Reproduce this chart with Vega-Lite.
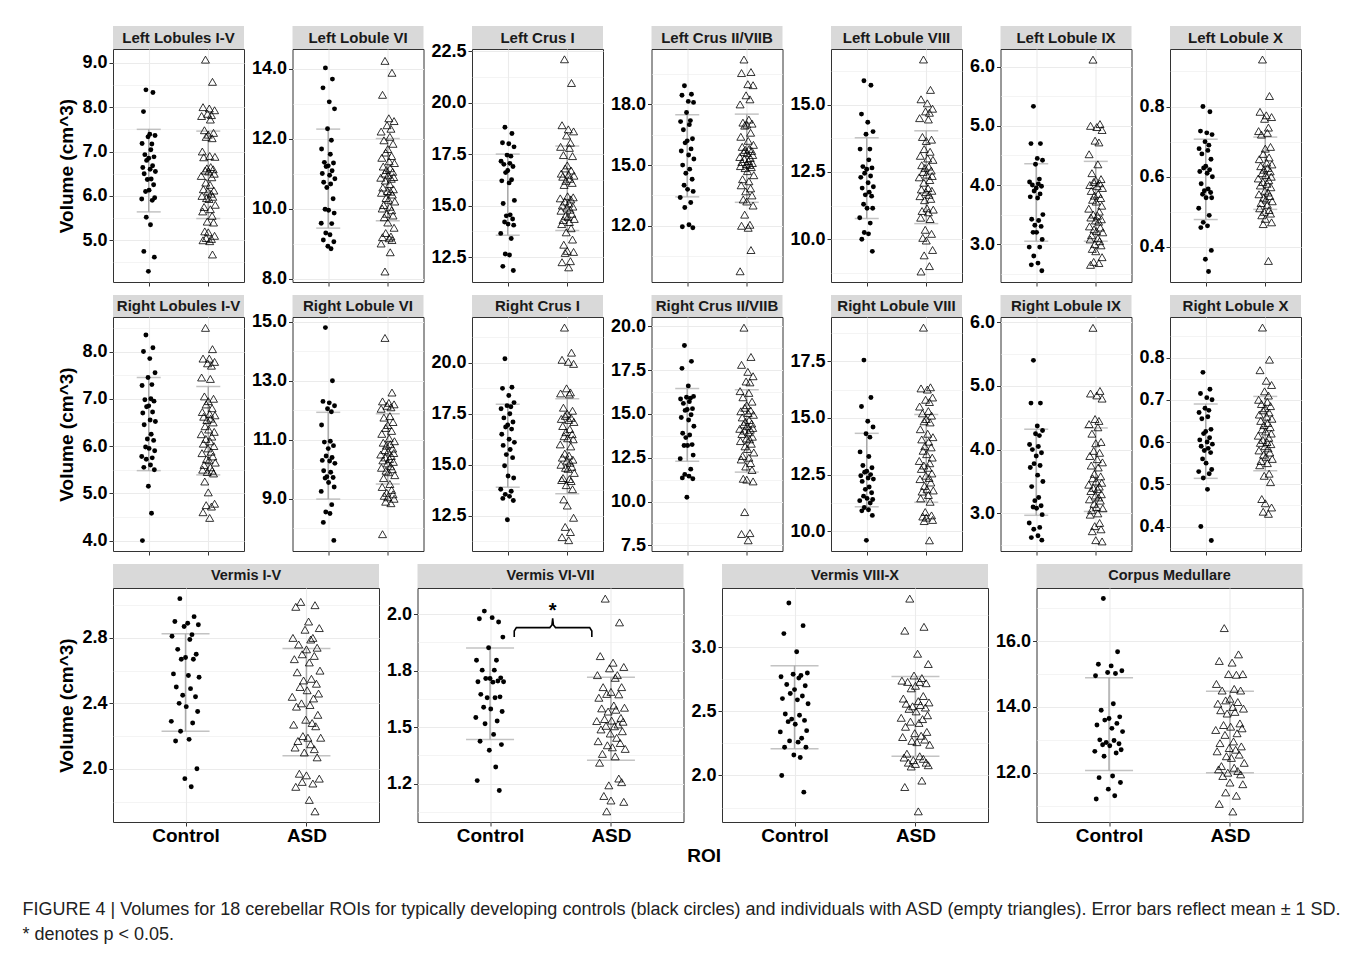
{
"$schema":"https://vega.github.io/schema/vega-lite/v6.json",
"padding":{"left":22,"top":26,"right":0,"bottom":0},
"background":"white",
"resolve":{"scale":{"xOffset":"independent"}},
"datasets":{
"pts":[
{"r":"L1","g":"Control","v":[8.39,8.33,7.9,7.39,7.36,7.33,7.17,7.18,7.04,6.93,6.88,6.85,6.8,6.68,6.64,6.6,6.55,6.5,6.38,6.37,6.25,6.1,6.13,5.96,5.93,5.9,5.52,5.35,4.75,4.62,4.3]},
{"r":"L1","g":"ASD","v":[9.07,8.57,8.0,7.97,7.93,7.85,7.82,7.8,7.72,7.48,7.42,7.38,7.33,7.3,7.0,6.9,6.88,6.87,6.65,6.62,6.6,6.57,6.55,6.5,6.45,6.42,6.3,6.25,6.15,6.12,6.1,6.05,6.0,5.98,5.95,5.93,5.8,5.75,5.7,5.65,5.55,5.42,5.4,5.2,5.18,5.1,5.05,5.03,5.0,4.98,4.68]},
{"r":"L2","g":"Control","v":[14.02,13.7,13.45,13.05,12.85,12.28,11.95,11.7,11.55,11.32,11.3,11.22,11.2,11.08,11.0,10.95,10.85,10.75,10.7,10.6,10.28,9.98,9.95,9.87,9.58,9.57,9.3,9.25,9.1,9.05,8.92,8.85]},
{"r":"L2","g":"ASD","v":[14.22,13.88,13.25,12.58,12.5,12.38,12.28,12.2,12.05,11.95,11.85,11.7,11.6,11.5,11.45,11.35,11.3,11.2,11.15,11.1,11.05,11.0,10.95,10.9,10.88,10.85,10.8,10.7,10.6,10.55,10.5,10.48,10.45,10.4,10.3,10.25,10.2,10.1,10.05,10.0,9.95,9.85,9.8,9.75,9.6,9.45,9.3,9.2,9.18,9.15,9.1,9.0,8.75,8.2]},
{"r":"L3","g":"Control","v":[18.8,18.5,18.05,18.0,17.85,17.45,17.4,17.15,17.05,17.0,16.9,16.7,16.6,16.25,16.2,16.1,15.25,15.1,14.55,14.5,14.35,14.2,14.1,14.05,13.65,13.4,12.65,12.6,12.05,11.85]},
{"r":"L3","g":"ASD","v":[22.1,20.95,18.9,18.7,18.6,18.4,18.05,17.85,17.8,17.45,17.4,16.95,16.8,16.7,16.55,16.5,16.45,16.4,16.3,16.2,16.1,16.0,15.45,15.4,15.35,15.3,15.2,15.1,15.0,14.95,14.9,14.8,14.75,14.6,14.5,14.45,14.35,14.3,14.2,14.1,13.9,13.7,13.35,13.1,12.8,12.75,12.7,12.3,12.25,12.0]},
{"r":"L4","g":"Control","v":[18.92,18.5,18.45,18.15,18.1,17.6,17.2,17.15,17.0,16.75,16.3,16.2,16.1,15.8,15.7,15.5,15.3,15.0,14.8,14.6,14.3,14.0,13.8,13.7,13.4,13.15,12.9,12.05,11.95,11.9]},
{"r":"L4","g":"ASD","v":[20.22,19.6,19.55,19.0,18.95,18.45,18.25,18.0,17.25,17.1,17.05,17.0,16.95,16.6,16.4,16.2,16.0,15.9,15.8,15.75,15.7,15.65,15.6,15.5,15.4,15.35,15.3,15.2,15.15,15.1,15.05,15.0,14.95,14.9,14.85,14.7,14.5,14.3,14.2,14.0,13.85,13.7,13.5,13.3,13.2,13.0,12.55,12.05,12.0,11.9,10.8,9.75]},
{"r":"L5","g":"Control","v":[15.89,15.72,14.65,14.35,14.0,13.9,13.35,13.35,12.95,12.7,12.65,12.6,12.45,12.35,12.3,12.1,11.95,11.9,11.75,11.65,11.6,11.3,11.15,11.15,10.8,10.6,10.25,10.2,10.0,9.55]},
{"r":"L5","g":"ASD","v":[16.68,15.55,15.2,15.05,14.85,14.75,14.7,14.5,14.45,13.8,13.7,13.65,13.35,13.25,13.1,13.0,12.95,12.75,12.7,12.65,12.55,12.5,12.4,12.35,12.3,12.2,12.1,11.9,11.85,11.8,11.75,11.65,11.6,11.5,11.45,11.15,11.1,11.05,11.0,10.8,10.75,10.35,10.2,10.05,9.95,9.6,9.4,9.0,8.8]},
{"r":"L6","g":"Control","v":[5.33,4.7,4.7,4.45,4.42,4.35,4.1,4.05,4.02,4.0,3.98,3.95,3.9,3.85,3.8,3.78,3.5,3.42,3.4,3.32,3.3,3.2,3.2,3.08,2.95,2.95,2.8,2.68,2.65,2.55]},
{"r":"L6","g":"ASD","v":[6.12,5.03,5.0,4.98,4.93,4.75,4.72,4.52,4.35,4.2,4.1,4.08,4.05,4.03,4.0,3.98,3.95,3.9,3.85,3.82,3.78,3.75,3.72,3.65,3.6,3.55,3.5,3.48,3.45,3.42,3.4,3.38,3.3,3.28,3.25,3.22,3.2,3.15,3.1,3.08,3.05,3.0,2.98,2.92,2.88,2.78,2.7,2.68,2.65]},
{"r":"L7","g":"Control","v":[0.8,0.785,0.73,0.725,0.72,0.7,0.69,0.68,0.675,0.665,0.65,0.63,0.625,0.62,0.615,0.61,0.6,0.58,0.565,0.56,0.555,0.55,0.54,0.54,0.51,0.49,0.47,0.46,0.455,0.39,0.365,0.33]},
{"r":"L7","g":"ASD","v":[0.934,0.83,0.785,0.775,0.77,0.765,0.74,0.73,0.725,0.72,0.685,0.68,0.665,0.655,0.65,0.64,0.635,0.63,0.625,0.62,0.615,0.61,0.605,0.6,0.595,0.59,0.585,0.58,0.575,0.57,0.56,0.555,0.55,0.545,0.54,0.535,0.53,0.525,0.52,0.51,0.505,0.5,0.495,0.49,0.48,0.47,0.465,0.36]},
{"r":"R1","g":"Control","v":[8.35,8.08,8.0,7.85,7.55,7.45,7.3,7.28,7.0,6.98,6.95,6.85,6.83,6.72,6.7,6.55,6.52,6.45,6.25,6.15,6.12,5.98,5.95,5.9,5.78,5.75,5.72,5.6,5.55,5.5,5.15,4.58,4.0]},
{"r":"R1","g":"ASD","v":[8.5,8.05,7.85,7.85,7.78,7.75,7.7,7.45,7.42,7.05,7.0,6.95,6.88,6.8,6.72,6.68,6.65,6.62,6.58,6.55,6.5,6.42,6.35,6.3,6.25,6.2,6.15,6.1,6.05,6.0,5.95,5.88,5.85,5.78,5.72,5.7,5.65,5.6,5.55,5.5,5.48,5.45,5.42,5.25,5.02,4.78,4.75,4.72,4.6,4.48]},
{"r":"R2","g":"Control","v":[14.8,13.0,12.3,12.25,12.15,12.05,11.95,11.5,10.95,10.92,10.8,10.7,10.45,10.4,10.3,10.28,10.2,9.95,9.9,9.75,9.72,9.7,9.55,9.4,9.25,8.8,8.55,8.5,8.2,7.59]},
{"r":"R2","g":"ASD","v":[14.45,12.6,12.3,12.25,12.2,12.15,12.1,12.05,11.8,11.75,11.6,11.5,11.4,11.3,11.2,11.05,10.95,10.9,10.85,10.8,10.7,10.65,10.6,10.55,10.5,10.45,10.4,10.35,10.3,10.25,10.2,10.1,10.05,10.0,9.95,9.9,9.8,9.7,9.5,9.4,9.3,9.2,9.15,9.1,9.05,9.0,8.9,8.85,7.8]},
{"r":"R3","g":"Control","v":[20.2,18.8,18.75,18.4,18.05,17.9,17.85,17.75,17.5,17.3,17.1,16.95,16.85,16.75,16.5,16.25,16.1,15.95,15.75,15.5,15.35,14.95,14.45,14.35,13.8,13.7,13.55,13.45,13.35,13.25,12.3]},
{"r":"R3","g":"ASD","v":[21.73,20.5,20.15,20.05,19.95,18.75,18.55,18.5,18.45,17.8,17.65,17.5,17.4,17.3,17.25,17.2,17.1,16.9,16.75,16.6,16.5,16.4,16.3,16.25,16.0,15.9,15.55,15.45,15.35,15.25,15.2,15.1,15.0,14.9,14.85,14.8,14.6,14.35,14.3,14.25,14.2,14.0,13.8,13.3,13.0,12.4,11.95,11.7,11.45,11.3]},
{"r":"R4","g":"Control","v":[18.9,18.0,17.6,16.6,16.0,15.95,15.9,15.85,15.7,15.6,15.3,15.25,15.2,14.95,14.8,14.65,14.3,13.9,13.8,13.65,13.25,13.2,13.2,12.65,12.45,11.85,11.55,11.45,11.35,11.3,10.25]},
{"r":"R4","g":"ASD","v":[19.92,18.25,17.8,17.4,17.15,16.85,16.8,16.3,16.2,15.95,15.7,15.5,15.35,15.2,15.15,15.05,14.95,14.8,14.65,14.55,14.45,14.4,14.3,14.2,14.15,14.1,14.05,13.95,13.85,13.7,13.6,13.55,13.45,13.3,13.15,13.0,12.8,12.6,12.5,12.4,12.2,12.0,11.8,11.3,11.25,11.15,9.4,8.2,8.15,7.79]},
{"r":"R5","g":"Control","v":[17.55,15.9,15.5,14.85,14.6,14.3,14.15,13.5,13.3,12.9,12.8,12.65,12.6,12.5,12.45,12.35,12.3,12.2,11.95,11.85,11.7,11.55,11.45,11.4,11.35,11.25,11.05,10.95,10.9,10.7,9.6]},
{"r":"R5","g":"ASD","v":[18.98,16.35,16.3,16.25,15.9,15.8,15.7,15.5,15.3,15.2,15.1,14.95,14.85,14.8,14.5,14.3,14.15,14.05,13.95,13.75,13.7,13.55,13.4,13.25,13.1,13.0,12.9,12.8,12.75,12.55,12.45,12.35,12.3,12.15,12.0,11.85,11.8,11.75,11.6,11.45,11.3,10.85,10.7,10.65,10.6,10.5,10.45,9.6]},
{"r":"R6","g":"Control","v":[5.4,4.73,4.73,4.37,4.3,4.25,4.22,4.08,4.05,4.0,3.95,3.9,3.78,3.75,3.72,3.6,3.5,3.42,3.25,3.2,3.12,3.1,3.08,2.98,2.85,2.78,2.75,2.65,2.62,2.58]},
{"r":"R6","g":"ASD","v":[5.91,4.92,4.88,4.85,4.8,4.48,4.45,4.4,4.35,4.25,4.12,4.1,3.98,3.95,3.9,3.85,3.8,3.75,3.72,3.62,3.58,3.55,3.5,3.48,3.45,3.42,3.4,3.38,3.35,3.3,3.28,3.25,3.22,3.2,3.15,3.1,3.08,3.05,3.0,2.98,2.85,2.8,2.75,2.72,2.58,2.56]},
{"r":"R7","g":"Control","v":[0.765,0.725,0.715,0.705,0.7,0.68,0.675,0.67,0.66,0.655,0.63,0.625,0.62,0.61,0.605,0.6,0.595,0.59,0.585,0.58,0.575,0.56,0.55,0.535,0.53,0.525,0.515,0.488,0.4,0.367]},
{"r":"R7","g":"ASD","v":[0.871,0.795,0.77,0.745,0.735,0.72,0.71,0.7,0.695,0.69,0.685,0.68,0.675,0.67,0.665,0.66,0.655,0.65,0.645,0.64,0.635,0.63,0.625,0.62,0.615,0.61,0.605,0.6,0.598,0.595,0.59,0.585,0.58,0.575,0.57,0.565,0.56,0.555,0.55,0.545,0.525,0.52,0.505,0.465,0.455,0.445,0.435,0.43]},
{"r":"V1","g":"Control","v":[3.04,2.93,2.9,2.89,2.88,2.87,2.82,2.81,2.79,2.73,2.7,2.68,2.67,2.67,2.58,2.57,2.56,2.5,2.49,2.45,2.44,2.4,2.38,2.35,2.29,2.28,2.23,2.18,2.17,2.0,1.94,1.89]},
{"r":"V1","g":"ASD","v":[3.02,3.0,2.99,2.9,2.86,2.85,2.8,2.8,2.79,2.76,2.74,2.73,2.7,2.69,2.67,2.65,2.6,2.59,2.55,2.54,2.52,2.5,2.48,2.46,2.44,2.43,2.4,2.39,2.38,2.33,2.3,2.28,2.27,2.26,2.2,2.19,2.19,2.17,2.15,2.13,2.12,2.1,2.07,1.97,1.96,1.94,1.92,1.91,1.89,1.81,1.74]},
{"r":"V2","g":"Control","v":[2.013,1.965,1.979,1.984,1.898,1.851,1.796,1.796,1.752,1.752,1.718,1.715,1.715,1.704,1.701,1.699,1.701,1.645,1.63,1.63,1.634,1.588,1.58,1.569,1.543,1.527,1.515,1.468,1.438,1.423,1.398,1.324,1.264,1.22]},
{"r":"V2","g":"ASD","v":[2.068,1.963,1.814,1.785,1.766,1.76,1.73,1.73,1.718,1.677,1.677,1.656,1.647,1.645,1.63,1.596,1.586,1.583,1.577,1.569,1.541,1.536,1.529,1.524,1.527,1.512,1.506,1.504,1.49,1.482,1.472,1.453,1.438,1.43,1.42,1.411,1.404,1.382,1.371,1.343,1.273,1.243,1.257,1.196,1.176,1.17,1.128]},
{"r":"V3","g":"Control","v":[3.346,3.169,3.107,2.966,2.8,2.79,2.78,2.77,2.76,2.71,2.7,2.67,2.64,2.62,2.6,2.59,2.56,2.48,2.47,2.44,2.43,2.42,2.4,2.35,2.34,2.29,2.27,2.26,2.22,2.22,2.16,2.14,2.0,1.87]},
{"r":"V3","g":"ASD","v":[3.38,3.16,3.13,2.95,2.87,2.78,2.76,2.74,2.73,2.73,2.72,2.7,2.68,2.62,2.6,2.58,2.57,2.56,2.55,2.54,2.53,2.52,2.5,2.47,2.45,2.44,2.42,2.41,2.38,2.34,2.33,2.31,2.3,2.28,2.27,2.26,2.24,2.17,2.15,2.14,2.13,2.12,2.1,2.1,2.09,2.08,2.07,1.96,1.91,1.72]},
{"r":"CM","g":"Control","v":[17.3,15.68,15.3,15.25,15.1,15.05,15.02,14.95,14.1,13.9,13.7,13.65,13.6,13.5,13.45,13.35,13.25,13.0,12.98,12.92,12.88,12.85,12.82,12.7,12.65,12.6,12.5,11.9,11.85,11.7,11.5,11.3,11.2]},
{"r":"CM","g":"ASD","v":[16.4,15.6,15.4,15.35,15.0,15.0,14.98,14.7,14.55,14.5,14.5,14.25,14.2,14.15,14.1,14.0,13.95,13.9,13.85,13.8,13.5,13.45,13.4,13.35,13.3,13.2,13.15,12.95,12.9,12.8,12.75,12.7,12.65,12.55,12.5,12.45,12.3,12.2,12.15,12.1,12.05,12.0,11.95,11.9,11.7,11.65,11.4,11.3,11.05,10.82]}
],
"jit":[{"i":1,"j":-8},{"i":2,"j":12},{"i":3,"j":-15},{"i":4,"j":3},{"i":5,"j":18},{"i":6,"j":-2},{"i":7,"j":9},{"i":8,"j":-19},{"i":9,"j":6},{"i":10,"j":-11},{"i":11,"j":15},{"i":12,"j":0},{"i":13,"j":-6},{"i":14,"j":11},{"i":15,"j":-17},{"i":16,"j":4},{"i":17,"j":19},{"i":18,"j":-13},{"i":19,"j":7},{"i":20,"j":-4},{"i":21,"j":14},{"i":22,"j":-9},{"i":23,"j":1},{"i":24,"j":17},{"i":25,"j":-20},{"i":26,"j":10},{"i":27,"j":-7},{"i":28,"j":5},{"i":29,"j":-14},{"i":30,"j":16},{"i":31,"j":-1},{"i":32,"j":8},{"i":33,"j":-18},{"i":34,"j":13},{"i":35,"j":-5},{"i":36,"j":2},{"i":37,"j":20},{"i":38,"j":-12},{"i":39,"j":6},{"i":40,"j":-16},{"i":41,"j":11},{"i":42,"j":-3},{"i":43,"j":15},{"i":44,"j":-10},{"i":45,"j":0},{"i":46,"j":18},{"i":47,"j":-6},{"i":48,"j":9},{"i":49,"j":-15},{"i":50,"j":4},{"i":51,"j":12},{"i":52,"j":-19},{"i":53,"j":7},{"i":54,"j":-8},{"i":55,"j":16},{"i":56,"j":-2},{"i":57,"j":3},{"i":58,"j":-13},{"i":59,"j":10},{"i":60,"j":-5}],
"eb":[
{"r":"L1","g":"Control","v":5.64,"v2":7.5},{"r":"L1","g":"ASD","v":5.49,"v2":7.46},
{"r":"L2","g":"Control","v":9.44,"v2":12.27},{"r":"L2","g":"ASD","v":9.65,"v2":12.0},
{"r":"L3","g":"Control","v":13.56,"v2":17.5},{"r":"L3","g":"ASD","v":13.79,"v2":17.89},
{"r":"L4","g":"Control","v":13.43,"v2":17.49},{"r":"L4","g":"ASD","v":13.16,"v2":17.52},
{"r":"L5","g":"Control","v":10.77,"v2":13.77},{"r":"L5","g":"ASD","v":10.58,"v2":14.03},
{"r":"L6","g":"Control","v":3.05,"v2":4.36},{"r":"L6","g":"ASD","v":3.05,"v2":4.4},
{"r":"L7","g":"Control","v":0.478,"v2":0.707},{"r":"L7","g":"ASD","v":0.507,"v2":0.713},
{"r":"R1","g":"Control","v":5.48,"v2":7.45},{"r":"R1","g":"ASD","v":5.39,"v2":7.26},
{"r":"R2","g":"Control","v":8.99,"v2":11.93},{"r":"R2","g":"ASD","v":9.5,"v2":11.88},
{"r":"R3","g":"Control","v":13.9,"v2":17.97},{"r":"R3","g":"ASD","v":13.58,"v2":18.24},
{"r":"R4","g":"Control","v":12.3,"v2":16.45},{"r":"R4","g":"ASD","v":11.68,"v2":16.38},
{"r":"R5","g":"Control","v":11.08,"v2":14.32},{"r":"R5","g":"ASD","v":11.28,"v2":15.15},
{"r":"R6","g":"Control","v":2.97,"v2":4.32},{"r":"R6","g":"ASD","v":3.03,"v2":4.34},
{"r":"R7","g":"Control","v":0.514,"v2":0.69},{"r":"R7","g":"ASD","v":0.532,"v2":0.708},
{"r":"V1","g":"Control","v":2.23,"v2":2.825},{"r":"V1","g":"ASD","v":2.08,"v2":2.736},
{"r":"V2","g":"Control","v":1.445,"v2":1.85},{"r":"V2","g":"ASD","v":1.354,"v2":1.721},
{"r":"V3","g":"Control","v":2.208,"v2":2.857},{"r":"V3","g":"ASD","v":2.151,"v2":2.773},
{"r":"CM","g":"Control","v":12.07,"v2":14.89},{"r":"CM","g":"ASD","v":12.0,"v2":14.48}
],
"br":[{"g":"Control","o":1,"j":34,"v":1.898},{"g":"Control","o":2,"j":34,"v":1.925},{"g":"Control","o":3,"j":37,"v":1.94},{"g":"Control","o":4,"j":84,"v":1.94},{"g":"Control","o":5,"j":87,"v":1.952},{"g":"Control","o":6,"j":88,"v":1.981},{"g":"Control","o":7,"j":89,"v":1.952},{"g":"Control","o":8,"j":92,"v":1.94},{"g":"Control","o":9,"j":140,"v":1.94},{"g":"Control","o":10,"j":143,"v":1.925},{"g":"Control","o":11,"j":143,"v":1.898}]
},
"data":{"name":"pts"},
"transform":[{"flatten":["v"]},{"window":[{"op":"row_number","as":"i"}],"groupby":["r","g"]},{"lookup":"i","from":{"data":{"name":"jit"},"key":"i","fields":["j"]}}],
"title":{"text":["FIGURE 4 | Volumes for 18 cerebellar ROIs for typically developing controls (black circles) and individuals with ASD (empty triangles). Error bars reflect mean ± 1 SD.","* denotes p < 0.05."],"orient":"bottom","anchor":"start","frame":"bounds","fontSize":18,"fontWeight":"normal","color":"#222222","lineHeight":25,"offset":35,"dx":-35},
"spacing":6,
"vconcat":[
{"hconcat":[
{"vconcat":[{"data":{"values":[{}]},"width":131,"height":23,"view":{"fill":"#d9d9d9"},"mark":{"type":"text","fontSize":15,"fontWeight":"bold","color":"#1a1a1a"},"encoding":{"text":{"value":"Left Lobules I-V"}}},
{"width":131,"height":233,"encoding":{"x":{"field":"g","type":"nominal","scale":{"type":"point","domain":["Control","ASD"],"padding":0.6},"axis":{"labels":false,"title":null}},"y":{"field":"v","type":"quantitative","scale":{"domain":[4.06,9.31],"nice":false,"zero":false},"axis":{"title":"Volume (cm^3)","values":[4.5,5,5.5,6,6.5,7,7.5,8,8.5,9],"labelExpr":"indexof([5,6,7,8,9],datum.value)<0?'':format(datum.value,'.1f')","tickOpacity":{"condition":{"test":"indexof([5,6,7,8,9],datum.value)<0","value":0},"value":1},"gridWidth":{"condition":{"test":"indexof([5,6,7,8,9],datum.value)<0","value":0.55},"value":1.1}}}},
"layer":[{"data":{"name":"eb"},"transform":[{"filter":"datum.r=='L1'"}],"mark":{"type":"errorbar","size":24,"thickness":1.5,"rule":{"color":"#aaaaaa"},"ticks":{"color":"#aaaaaa"}},"encoding":{"y2":{"field":"v2"}}},
{"transform":[{"filter":"datum.r=='L1'&&datum.g=='Control'"}],"mark":{"type":"point","filled":true,"size":24,"color":"#000","opacity":1},"encoding":{"xOffset":{"field":"j","type":"quantitative","scale":{"domain":[-170,170],"range":[-59.5,59.5]}}}},
{"transform":[{"filter":"datum.r=='L1'&&datum.g=='ASD'"}],"mark":{"type":"point","shape":"triangle-up","size":64,"strokeWidth":0.8,"color":"#000","opacity":1},"encoding":{"xOffset":{"field":"j","type":"quantitative","scale":{"domain":[-170,170],"range":[-59.5,59.5]}}}}]}],"spacing":0,"bounds":"flush"},
{"vconcat":[{"data":{"values":[{}]},"width":131,"height":23,"view":{"fill":"#d9d9d9"},"mark":{"type":"text","fontSize":15,"fontWeight":"bold","color":"#1a1a1a"},"encoding":{"text":{"value":"Left Lobule VI"}}},
{"width":131,"height":233,"encoding":{"x":{"field":"g","type":"nominal","scale":{"type":"point","domain":["Control","ASD"],"padding":0.6},"axis":{"labels":false,"title":null}},"y":{"field":"v","type":"quantitative","scale":{"domain":[7.9,14.56],"nice":false,"zero":false},"axis":{"title":null,"values":[8,9,10,11,12,13,14],"labelExpr":"indexof([8,10,12,14],datum.value)<0?'':format(datum.value,'.1f')","tickOpacity":{"condition":{"test":"indexof([8,10,12,14],datum.value)<0","value":0},"value":1},"gridWidth":{"condition":{"test":"indexof([8,10,12,14],datum.value)<0","value":0.55},"value":1.1}}}},
"layer":[{"data":{"name":"eb"},"transform":[{"filter":"datum.r=='L2'"}],"mark":{"type":"errorbar","size":24,"thickness":1.5,"rule":{"color":"#aaaaaa"},"ticks":{"color":"#aaaaaa"}},"encoding":{"y2":{"field":"v2"}}},
{"transform":[{"filter":"datum.r=='L2'&&datum.g=='Control'"}],"mark":{"type":"point","filled":true,"size":24,"color":"#000","opacity":1},"encoding":{"xOffset":{"field":"j","type":"quantitative","scale":{"domain":[-170,170],"range":[-59.5,59.5]}}}},
{"transform":[{"filter":"datum.r=='L2'&&datum.g=='ASD'"}],"mark":{"type":"point","shape":"triangle-up","size":64,"strokeWidth":0.8,"color":"#000","opacity":1},"encoding":{"xOffset":{"field":"j","type":"quantitative","scale":{"domain":[-170,170],"range":[-59.5,59.5]}}}}]}],"spacing":0,"bounds":"flush"},
{"vconcat":[{"data":{"values":[{}]},"width":131,"height":23,"view":{"fill":"#d9d9d9"},"mark":{"type":"text","fontSize":15,"fontWeight":"bold","color":"#1a1a1a"},"encoding":{"text":{"value":"Left Crus I"}}},
{"width":131,"height":233,"encoding":{"x":{"field":"g","type":"nominal","scale":{"type":"point","domain":["Control","ASD"],"padding":0.6},"axis":{"labels":false,"title":null}},"y":{"field":"v","type":"quantitative","scale":{"domain":[11.29,22.6],"nice":false,"zero":false},"axis":{"title":null,"values":[12.5,13.75,15,16.25,17.5,18.75,20,21.25,22.5],"labelExpr":"indexof([12.5,15,17.5,20,22.5],datum.value)<0?'':format(datum.value,'.1f')","tickOpacity":{"condition":{"test":"indexof([12.5,15,17.5,20,22.5],datum.value)<0","value":0},"value":1},"gridWidth":{"condition":{"test":"indexof([12.5,15,17.5,20,22.5],datum.value)<0","value":0.55},"value":1.1}}}},
"layer":[{"data":{"name":"eb"},"transform":[{"filter":"datum.r=='L3'"}],"mark":{"type":"errorbar","size":24,"thickness":1.5,"rule":{"color":"#aaaaaa"},"ticks":{"color":"#aaaaaa"}},"encoding":{"y2":{"field":"v2"}}},
{"transform":[{"filter":"datum.r=='L3'&&datum.g=='Control'"}],"mark":{"type":"point","filled":true,"size":24,"color":"#000","opacity":1},"encoding":{"xOffset":{"field":"j","type":"quantitative","scale":{"domain":[-170,170],"range":[-59.5,59.5]}}}},
{"transform":[{"filter":"datum.r=='L3'&&datum.g=='ASD'"}],"mark":{"type":"point","shape":"triangle-up","size":64,"strokeWidth":0.8,"color":"#000","opacity":1},"encoding":{"xOffset":{"field":"j","type":"quantitative","scale":{"domain":[-170,170],"range":[-59.5,59.5]}}}}]}],"spacing":0,"bounds":"flush"},
{"vconcat":[{"data":{"values":[{}]},"width":131,"height":23,"view":{"fill":"#d9d9d9"},"mark":{"type":"text","fontSize":15,"fontWeight":"bold","color":"#1a1a1a"},"encoding":{"text":{"value":"Left Crus II/VIIB"}}},
{"width":131,"height":233,"encoding":{"x":{"field":"g","type":"nominal","scale":{"type":"point","domain":["Control","ASD"],"padding":0.6},"axis":{"labels":false,"title":null}},"y":{"field":"v","type":"quantitative","scale":{"domain":[9.22,20.74],"nice":false,"zero":false},"axis":{"title":null,"values":[10.5,12,13.5,15,16.5,18,19.5],"labelExpr":"indexof([12,15,18],datum.value)<0?'':format(datum.value,'.1f')","tickOpacity":{"condition":{"test":"indexof([12,15,18],datum.value)<0","value":0},"value":1},"gridWidth":{"condition":{"test":"indexof([12,15,18],datum.value)<0","value":0.55},"value":1.1}}}},
"layer":[{"data":{"name":"eb"},"transform":[{"filter":"datum.r=='L4'"}],"mark":{"type":"errorbar","size":24,"thickness":1.5,"rule":{"color":"#aaaaaa"},"ticks":{"color":"#aaaaaa"}},"encoding":{"y2":{"field":"v2"}}},
{"transform":[{"filter":"datum.r=='L4'&&datum.g=='Control'"}],"mark":{"type":"point","filled":true,"size":24,"color":"#000","opacity":1},"encoding":{"xOffset":{"field":"j","type":"quantitative","scale":{"domain":[-170,170],"range":[-59.5,59.5]}}}},
{"transform":[{"filter":"datum.r=='L4'&&datum.g=='ASD'"}],"mark":{"type":"point","shape":"triangle-up","size":64,"strokeWidth":0.8,"color":"#000","opacity":1},"encoding":{"xOffset":{"field":"j","type":"quantitative","scale":{"domain":[-170,170],"range":[-59.5,59.5]}}}}]}],"spacing":0,"bounds":"flush"},
{"vconcat":[{"data":{"values":[{}]},"width":131,"height":23,"view":{"fill":"#d9d9d9"},"mark":{"type":"text","fontSize":15,"fontWeight":"bold","color":"#1a1a1a"},"encoding":{"text":{"value":"Left Lobule VIII"}}},
{"width":131,"height":233,"encoding":{"x":{"field":"g","type":"nominal","scale":{"type":"point","domain":["Control","ASD"],"padding":0.6},"axis":{"labels":false,"title":null}},"y":{"field":"v","type":"quantitative","scale":{"domain":[8.41,17.07],"nice":false,"zero":false},"axis":{"title":null,"values":[8.75,10,11.25,12.5,13.75,15,16.25],"labelExpr":"indexof([10,12.5,15],datum.value)<0?'':format(datum.value,'.1f')","tickOpacity":{"condition":{"test":"indexof([10,12.5,15],datum.value)<0","value":0},"value":1},"gridWidth":{"condition":{"test":"indexof([10,12.5,15],datum.value)<0","value":0.55},"value":1.1}}}},
"layer":[{"data":{"name":"eb"},"transform":[{"filter":"datum.r=='L5'"}],"mark":{"type":"errorbar","size":24,"thickness":1.5,"rule":{"color":"#aaaaaa"},"ticks":{"color":"#aaaaaa"}},"encoding":{"y2":{"field":"v2"}}},
{"transform":[{"filter":"datum.r=='L5'&&datum.g=='Control'"}],"mark":{"type":"point","filled":true,"size":24,"color":"#000","opacity":1},"encoding":{"xOffset":{"field":"j","type":"quantitative","scale":{"domain":[-170,170],"range":[-59.5,59.5]}}}},
{"transform":[{"filter":"datum.r=='L5'&&datum.g=='ASD'"}],"mark":{"type":"point","shape":"triangle-up","size":64,"strokeWidth":0.8,"color":"#000","opacity":1},"encoding":{"xOffset":{"field":"j","type":"quantitative","scale":{"domain":[-170,170],"range":[-59.5,59.5]}}}}]}],"spacing":0,"bounds":"flush"},
{"vconcat":[{"data":{"values":[{}]},"width":131,"height":23,"view":{"fill":"#d9d9d9"},"mark":{"type":"text","fontSize":15,"fontWeight":"bold","color":"#1a1a1a"},"encoding":{"text":{"value":"Left Lobule IX"}}},
{"width":131,"height":233,"encoding":{"x":{"field":"g","type":"nominal","scale":{"type":"point","domain":["Control","ASD"],"padding":0.6},"axis":{"labels":false,"title":null}},"y":{"field":"v","type":"quantitative","scale":{"domain":[2.36,6.3],"nice":false,"zero":false},"axis":{"title":null,"values":[2.5,3,3.5,4,4.5,5,5.5,6],"labelExpr":"indexof([3,4,5,6],datum.value)<0?'':format(datum.value,'.1f')","tickOpacity":{"condition":{"test":"indexof([3,4,5,6],datum.value)<0","value":0},"value":1},"gridWidth":{"condition":{"test":"indexof([3,4,5,6],datum.value)<0","value":0.55},"value":1.1}}}},
"layer":[{"data":{"name":"eb"},"transform":[{"filter":"datum.r=='L6'"}],"mark":{"type":"errorbar","size":24,"thickness":1.5,"rule":{"color":"#aaaaaa"},"ticks":{"color":"#aaaaaa"}},"encoding":{"y2":{"field":"v2"}}},
{"transform":[{"filter":"datum.r=='L6'&&datum.g=='Control'"}],"mark":{"type":"point","filled":true,"size":24,"color":"#000","opacity":1},"encoding":{"xOffset":{"field":"j","type":"quantitative","scale":{"domain":[-170,170],"range":[-59.5,59.5]}}}},
{"transform":[{"filter":"datum.r=='L6'&&datum.g=='ASD'"}],"mark":{"type":"point","shape":"triangle-up","size":64,"strokeWidth":0.8,"color":"#000","opacity":1},"encoding":{"xOffset":{"field":"j","type":"quantitative","scale":{"domain":[-170,170],"range":[-59.5,59.5]}}}}]}],"spacing":0,"bounds":"flush"},
{"vconcat":[{"data":{"values":[{}]},"width":131,"height":23,"view":{"fill":"#d9d9d9"},"mark":{"type":"text","fontSize":15,"fontWeight":"bold","color":"#1a1a1a"},"encoding":{"text":{"value":"Left Lobule X"}}},
{"width":131,"height":233,"encoding":{"x":{"field":"g","type":"nominal","scale":{"type":"point","domain":["Control","ASD"],"padding":0.6},"axis":{"labels":false,"title":null}},"y":{"field":"v","type":"quantitative","scale":{"domain":[0.3,0.964],"nice":false,"zero":false},"axis":{"title":null,"values":[0.4,0.5,0.6,0.7,0.8,0.9],"labelExpr":"indexof([0.4,0.6,0.8],datum.value)<0?'':format(datum.value,'.1f')","tickOpacity":{"condition":{"test":"indexof([0.4,0.6,0.8],datum.value)<0","value":0},"value":1},"gridWidth":{"condition":{"test":"indexof([0.4,0.6,0.8],datum.value)<0","value":0.55},"value":1.1}}}},
"layer":[{"data":{"name":"eb"},"transform":[{"filter":"datum.r=='L7'"}],"mark":{"type":"errorbar","size":24,"thickness":1.5,"rule":{"color":"#aaaaaa"},"ticks":{"color":"#aaaaaa"}},"encoding":{"y2":{"field":"v2"}}},
{"transform":[{"filter":"datum.r=='L7'&&datum.g=='Control'"}],"mark":{"type":"point","filled":true,"size":24,"color":"#000","opacity":1},"encoding":{"xOffset":{"field":"j","type":"quantitative","scale":{"domain":[-170,170],"range":[-59.5,59.5]}}}},
{"transform":[{"filter":"datum.r=='L7'&&datum.g=='ASD'"}],"mark":{"type":"point","shape":"triangle-up","size":64,"strokeWidth":0.8,"color":"#000","opacity":1},"encoding":{"xOffset":{"field":"j","type":"quantitative","scale":{"domain":[-170,170],"range":[-59.5,59.5]}}}}]}],"spacing":0,"bounds":"flush"}
],"spacing":5.5},
{"hconcat":[
{"vconcat":[{"data":{"values":[{}]},"width":131,"height":22,"view":{"fill":"#d9d9d9"},"mark":{"type":"text","fontSize":15,"fontWeight":"bold","color":"#1a1a1a"},"encoding":{"text":{"value":"Right Lobules I-V"}}},
{"width":131,"height":234,"encoding":{"x":{"field":"g","type":"nominal","scale":{"type":"point","domain":["Control","ASD"],"padding":0.6},"axis":{"labels":false,"title":null}},"y":{"field":"v","type":"quantitative","scale":{"domain":[3.78,8.73],"nice":false,"zero":false},"axis":{"title":"Volume (cm^3)","values":[4,4.5,5,5.5,6,6.5,7,7.5,8,8.5],"labelExpr":"indexof([4,5,6,7,8],datum.value)<0?'':format(datum.value,'.1f')","tickOpacity":{"condition":{"test":"indexof([4,5,6,7,8],datum.value)<0","value":0},"value":1},"gridWidth":{"condition":{"test":"indexof([4,5,6,7,8],datum.value)<0","value":0.55},"value":1.1}}}},
"layer":[{"data":{"name":"eb"},"transform":[{"filter":"datum.r=='R1'"}],"mark":{"type":"errorbar","size":24,"thickness":1.5,"rule":{"color":"#aaaaaa"},"ticks":{"color":"#aaaaaa"}},"encoding":{"y2":{"field":"v2"}}},
{"transform":[{"filter":"datum.r=='R1'&&datum.g=='Control'"}],"mark":{"type":"point","filled":true,"size":24,"color":"#000","opacity":1},"encoding":{"xOffset":{"field":"j","type":"quantitative","scale":{"domain":[-170,170],"range":[-59.5,59.5]}}}},
{"transform":[{"filter":"datum.r=='R1'&&datum.g=='ASD'"}],"mark":{"type":"point","shape":"triangle-up","size":64,"strokeWidth":0.8,"color":"#000","opacity":1},"encoding":{"xOffset":{"field":"j","type":"quantitative","scale":{"domain":[-170,170],"range":[-59.5,59.5]}}}}]}],"spacing":0,"bounds":"flush"},
{"vconcat":[{"data":{"values":[{}]},"width":131,"height":22,"view":{"fill":"#d9d9d9"},"mark":{"type":"text","fontSize":15,"fontWeight":"bold","color":"#1a1a1a"},"encoding":{"text":{"value":"Right Lobule VI"}}},
{"width":131,"height":234,"encoding":{"x":{"field":"g","type":"nominal","scale":{"type":"point","domain":["Control","ASD"],"padding":0.6},"axis":{"labels":false,"title":null}},"y":{"field":"v","type":"quantitative","scale":{"domain":[7.23,15.16],"nice":false,"zero":false},"axis":{"title":null,"values":[8,9,10,11,12,13,14,15],"labelExpr":"indexof([9,11,13,15],datum.value)<0?'':format(datum.value,'.1f')","tickOpacity":{"condition":{"test":"indexof([9,11,13,15],datum.value)<0","value":0},"value":1},"gridWidth":{"condition":{"test":"indexof([9,11,13,15],datum.value)<0","value":0.55},"value":1.1}}}},
"layer":[{"data":{"name":"eb"},"transform":[{"filter":"datum.r=='R2'"}],"mark":{"type":"errorbar","size":24,"thickness":1.5,"rule":{"color":"#aaaaaa"},"ticks":{"color":"#aaaaaa"}},"encoding":{"y2":{"field":"v2"}}},
{"transform":[{"filter":"datum.r=='R2'&&datum.g=='Control'"}],"mark":{"type":"point","filled":true,"size":24,"color":"#000","opacity":1},"encoding":{"xOffset":{"field":"j","type":"quantitative","scale":{"domain":[-170,170],"range":[-59.5,59.5]}}}},
{"transform":[{"filter":"datum.r=='R2'&&datum.g=='ASD'"}],"mark":{"type":"point","shape":"triangle-up","size":64,"strokeWidth":0.8,"color":"#000","opacity":1},"encoding":{"xOffset":{"field":"j","type":"quantitative","scale":{"domain":[-170,170],"range":[-59.5,59.5]}}}}]}],"spacing":0,"bounds":"flush"},
{"vconcat":[{"data":{"values":[{}]},"width":131,"height":22,"view":{"fill":"#d9d9d9"},"mark":{"type":"text","fontSize":15,"fontWeight":"bold","color":"#1a1a1a"},"encoding":{"text":{"value":"Right Crus I"}}},
{"width":131,"height":234,"encoding":{"x":{"field":"g","type":"nominal","scale":{"type":"point","domain":["Control","ASD"],"padding":0.6},"axis":{"labels":false,"title":null}},"y":{"field":"v","type":"quantitative","scale":{"domain":[10.77,22.25],"nice":false,"zero":false},"axis":{"title":null,"values":[11.25,12.5,13.75,15,16.25,17.5,18.75,20,21.25],"labelExpr":"indexof([12.5,15,17.5,20],datum.value)<0?'':format(datum.value,'.1f')","tickOpacity":{"condition":{"test":"indexof([12.5,15,17.5,20],datum.value)<0","value":0},"value":1},"gridWidth":{"condition":{"test":"indexof([12.5,15,17.5,20],datum.value)<0","value":0.55},"value":1.1}}}},
"layer":[{"data":{"name":"eb"},"transform":[{"filter":"datum.r=='R3'"}],"mark":{"type":"errorbar","size":24,"thickness":1.5,"rule":{"color":"#aaaaaa"},"ticks":{"color":"#aaaaaa"}},"encoding":{"y2":{"field":"v2"}}},
{"transform":[{"filter":"datum.r=='R3'&&datum.g=='Control'"}],"mark":{"type":"point","filled":true,"size":24,"color":"#000","opacity":1},"encoding":{"xOffset":{"field":"j","type":"quantitative","scale":{"domain":[-170,170],"range":[-59.5,59.5]}}}},
{"transform":[{"filter":"datum.r=='R3'&&datum.g=='ASD'"}],"mark":{"type":"point","shape":"triangle-up","size":64,"strokeWidth":0.8,"color":"#000","opacity":1},"encoding":{"xOffset":{"field":"j","type":"quantitative","scale":{"domain":[-170,170],"range":[-59.5,59.5]}}}}]}],"spacing":0,"bounds":"flush"},
{"vconcat":[{"data":{"values":[{}]},"width":131,"height":22,"view":{"fill":"#d9d9d9"},"mark":{"type":"text","fontSize":15,"fontWeight":"bold","color":"#1a1a1a"},"encoding":{"text":{"value":"Right Crus II/VIIB"}}},
{"width":131,"height":234,"encoding":{"x":{"field":"g","type":"nominal","scale":{"type":"point","domain":["Control","ASD"],"padding":0.6},"axis":{"labels":false,"title":null}},"y":{"field":"v","type":"quantitative","scale":{"domain":[7.18,20.53],"nice":false,"zero":false},"axis":{"title":null,"values":[7.5,8.75,10,11.25,12.5,13.75,15,16.25,17.5,18.75,20],"labelExpr":"indexof([7.5,10,12.5,15,17.5,20],datum.value)<0?'':format(datum.value,'.1f')","tickOpacity":{"condition":{"test":"indexof([7.5,10,12.5,15,17.5,20],datum.value)<0","value":0},"value":1},"gridWidth":{"condition":{"test":"indexof([7.5,10,12.5,15,17.5,20],datum.value)<0","value":0.55},"value":1.1}}}},
"layer":[{"data":{"name":"eb"},"transform":[{"filter":"datum.r=='R4'"}],"mark":{"type":"errorbar","size":24,"thickness":1.5,"rule":{"color":"#aaaaaa"},"ticks":{"color":"#aaaaaa"}},"encoding":{"y2":{"field":"v2"}}},
{"transform":[{"filter":"datum.r=='R4'&&datum.g=='Control'"}],"mark":{"type":"point","filled":true,"size":24,"color":"#000","opacity":1},"encoding":{"xOffset":{"field":"j","type":"quantitative","scale":{"domain":[-170,170],"range":[-59.5,59.5]}}}},
{"transform":[{"filter":"datum.r=='R4'&&datum.g=='ASD'"}],"mark":{"type":"point","shape":"triangle-up","size":64,"strokeWidth":0.8,"color":"#000","opacity":1},"encoding":{"xOffset":{"field":"j","type":"quantitative","scale":{"domain":[-170,170],"range":[-59.5,59.5]}}}}]}],"spacing":0,"bounds":"flush"},
{"vconcat":[{"data":{"values":[{}]},"width":131,"height":22,"view":{"fill":"#d9d9d9"},"mark":{"type":"text","fontSize":15,"fontWeight":"bold","color":"#1a1a1a"},"encoding":{"text":{"value":"Right Lobule VIII"}}},
{"width":131,"height":234,"encoding":{"x":{"field":"g","type":"nominal","scale":{"type":"point","domain":["Control","ASD"],"padding":0.6},"axis":{"labels":false,"title":null}},"y":{"field":"v","type":"quantitative","scale":{"domain":[9.13,19.45],"nice":false,"zero":false},"axis":{"title":null,"values":[10,11.25,12.5,13.75,15,16.25,17.5,18.75],"labelExpr":"indexof([10,12.5,15,17.5],datum.value)<0?'':format(datum.value,'.1f')","tickOpacity":{"condition":{"test":"indexof([10,12.5,15,17.5],datum.value)<0","value":0},"value":1},"gridWidth":{"condition":{"test":"indexof([10,12.5,15,17.5],datum.value)<0","value":0.55},"value":1.1}}}},
"layer":[{"data":{"name":"eb"},"transform":[{"filter":"datum.r=='R5'"}],"mark":{"type":"errorbar","size":24,"thickness":1.5,"rule":{"color":"#aaaaaa"},"ticks":{"color":"#aaaaaa"}},"encoding":{"y2":{"field":"v2"}}},
{"transform":[{"filter":"datum.r=='R5'&&datum.g=='Control'"}],"mark":{"type":"point","filled":true,"size":24,"color":"#000","opacity":1},"encoding":{"xOffset":{"field":"j","type":"quantitative","scale":{"domain":[-170,170],"range":[-59.5,59.5]}}}},
{"transform":[{"filter":"datum.r=='R5'&&datum.g=='ASD'"}],"mark":{"type":"point","shape":"triangle-up","size":64,"strokeWidth":0.8,"color":"#000","opacity":1},"encoding":{"xOffset":{"field":"j","type":"quantitative","scale":{"domain":[-170,170],"range":[-59.5,59.5]}}}}]}],"spacing":0,"bounds":"flush"},
{"vconcat":[{"data":{"values":[{}]},"width":131,"height":22,"view":{"fill":"#d9d9d9"},"mark":{"type":"text","fontSize":15,"fontWeight":"bold","color":"#1a1a1a"},"encoding":{"text":{"value":"Right Lobule IX"}}},
{"width":131,"height":234,"encoding":{"x":{"field":"g","type":"nominal","scale":{"type":"point","domain":["Control","ASD"],"padding":0.6},"axis":{"labels":false,"title":null}},"y":{"field":"v","type":"quantitative","scale":{"domain":[2.41,6.08],"nice":false,"zero":false},"axis":{"title":null,"values":[2.5,3,3.5,4,4.5,5,5.5,6],"labelExpr":"indexof([3,4,5,6],datum.value)<0?'':format(datum.value,'.1f')","tickOpacity":{"condition":{"test":"indexof([3,4,5,6],datum.value)<0","value":0},"value":1},"gridWidth":{"condition":{"test":"indexof([3,4,5,6],datum.value)<0","value":0.55},"value":1.1}}}},
"layer":[{"data":{"name":"eb"},"transform":[{"filter":"datum.r=='R6'"}],"mark":{"type":"errorbar","size":24,"thickness":1.5,"rule":{"color":"#aaaaaa"},"ticks":{"color":"#aaaaaa"}},"encoding":{"y2":{"field":"v2"}}},
{"transform":[{"filter":"datum.r=='R6'&&datum.g=='Control'"}],"mark":{"type":"point","filled":true,"size":24,"color":"#000","opacity":1},"encoding":{"xOffset":{"field":"j","type":"quantitative","scale":{"domain":[-170,170],"range":[-59.5,59.5]}}}},
{"transform":[{"filter":"datum.r=='R6'&&datum.g=='ASD'"}],"mark":{"type":"point","shape":"triangle-up","size":64,"strokeWidth":0.8,"color":"#000","opacity":1},"encoding":{"xOffset":{"field":"j","type":"quantitative","scale":{"domain":[-170,170],"range":[-59.5,59.5]}}}}]}],"spacing":0,"bounds":"flush"},
{"vconcat":[{"data":{"values":[{}]},"width":131,"height":22,"view":{"fill":"#d9d9d9"},"mark":{"type":"text","fontSize":15,"fontWeight":"bold","color":"#1a1a1a"},"encoding":{"text":{"value":"Right Lobule X"}}},
{"width":131,"height":234,"encoding":{"x":{"field":"g","type":"nominal","scale":{"type":"point","domain":["Control","ASD"],"padding":0.6},"axis":{"labels":false,"title":null}},"y":{"field":"v","type":"quantitative","scale":{"domain":[0.342,0.896],"nice":false,"zero":false},"axis":{"title":null,"values":[0.35,0.4,0.45,0.5,0.55,0.6,0.65,0.7,0.75,0.8,0.85],"labelExpr":"indexof([0.4,0.5,0.6,0.7,0.8],datum.value)<0?'':format(datum.value,'.1f')","tickOpacity":{"condition":{"test":"indexof([0.4,0.5,0.6,0.7,0.8],datum.value)<0","value":0},"value":1},"gridWidth":{"condition":{"test":"indexof([0.4,0.5,0.6,0.7,0.8],datum.value)<0","value":0.55},"value":1.1}}}},
"layer":[{"data":{"name":"eb"},"transform":[{"filter":"datum.r=='R7'"}],"mark":{"type":"errorbar","size":24,"thickness":1.5,"rule":{"color":"#aaaaaa"},"ticks":{"color":"#aaaaaa"}},"encoding":{"y2":{"field":"v2"}}},
{"transform":[{"filter":"datum.r=='R7'&&datum.g=='Control'"}],"mark":{"type":"point","filled":true,"size":24,"color":"#000","opacity":1},"encoding":{"xOffset":{"field":"j","type":"quantitative","scale":{"domain":[-170,170],"range":[-59.5,59.5]}}}},
{"transform":[{"filter":"datum.r=='R7'&&datum.g=='ASD'"}],"mark":{"type":"point","shape":"triangle-up","size":64,"strokeWidth":0.8,"color":"#000","opacity":1},"encoding":{"xOffset":{"field":"j","type":"quantitative","scale":{"domain":[-170,170],"range":[-59.5,59.5]}}}}]}],"spacing":0,"bounds":"flush"}
],"spacing":5.5},
{"title":{"text":"ROI","orient":"bottom","anchor":"middle","fontSize":19,"fontWeight":"bold","color":"#000","offset":1,"dx":24},
"hconcat":[
{"vconcat":[{"data":{"values":[{}]},"width":266,"height":24,"view":{"fill":"#d9d9d9"},"mark":{"type":"text","fontSize":14.5,"fontWeight":"bold","color":"#1a1a1a"},"encoding":{"text":{"value":"Vermis I-V"}}},
{"width":266,"height":234,"encoding":{"x":{"field":"g","type":"nominal","scale":{"type":"point","domain":["Control","ASD"],"padding":0.6},"axis":{"title":null,"labelAngle":0,"labelFontSize":19,"labelPadding":0}},"y":{"field":"v","type":"quantitative","scale":{"domain":[1.675,3.105],"nice":false,"zero":false},"axis":{"title":"Volume (cm^3)","values":[1.8,2,2.2,2.4,2.6,2.8,3],"labelExpr":"indexof([2,2.4,2.8],datum.value)<0?'':format(datum.value,'.1f')","tickOpacity":{"condition":{"test":"indexof([2,2.4,2.8],datum.value)<0","value":0},"value":1},"gridWidth":{"condition":{"test":"indexof([2,2.4,2.8],datum.value)<0","value":0.55},"value":1.1}}}},
"layer":[{"data":{"name":"eb"},"transform":[{"filter":"datum.r=='V1'"}],"mark":{"type":"errorbar","size":48,"thickness":1.5,"rule":{"color":"#aaaaaa"},"ticks":{"color":"#aaaaaa"}},"encoding":{"y2":{"field":"v2"}}},
{"transform":[{"filter":"datum.r=='V1'&&datum.g=='Control'"}],"mark":{"type":"point","filled":true,"size":24,"color":"#000","opacity":1},"encoding":{"xOffset":{"field":"j","type":"quantitative","scale":{"domain":[-170,170],"range":[-121,121]}}}},
{"transform":[{"filter":"datum.r=='V1'&&datum.g=='ASD'"}],"mark":{"type":"point","shape":"triangle-up","size":64,"strokeWidth":0.8,"color":"#000","opacity":1},"encoding":{"xOffset":{"field":"j","type":"quantitative","scale":{"domain":[-170,170],"range":[-121,121]}}}}]}],"spacing":0,"bounds":"flush"},
{"vconcat":[{"data":{"values":[{}]},"width":266,"height":24,"view":{"fill":"#d9d9d9"},"mark":{"type":"text","fontSize":14.5,"fontWeight":"bold","color":"#1a1a1a"},"encoding":{"text":{"value":"Vermis VI-VII"}}},
{"width":266,"height":234,"encoding":{"x":{"field":"g","type":"nominal","scale":{"type":"point","domain":["Control","ASD"],"padding":0.6},"axis":{"title":null,"labelAngle":0,"labelFontSize":19,"labelPadding":0}},"y":{"field":"v","type":"quantitative","scale":{"domain":[1.081,2.115],"nice":false,"zero":false},"axis":{"title":null,"values":[1.125,1.25,1.375,1.5,1.625,1.75,1.875,2],"labelExpr":"indexof([1.25,1.5,1.75,2],datum.value)<0?'':datum.value==1.25?'1.2':datum.value==1.75?'1.8':format(datum.value,'.1f')","tickOpacity":{"condition":{"test":"indexof([1.25,1.5,1.75,2],datum.value)<0","value":0},"value":1},"gridWidth":{"condition":{"test":"indexof([1.25,1.5,1.75,2],datum.value)<0","value":0.55},"value":1.1}}}},
"layer":[{"data":{"name":"eb"},"transform":[{"filter":"datum.r=='V2'"}],"mark":{"type":"errorbar","size":48,"thickness":1.5,"rule":{"color":"#aaaaaa"},"ticks":{"color":"#aaaaaa"}},"encoding":{"y2":{"field":"v2"}}},
{"transform":[{"filter":"datum.r=='V2'&&datum.g=='Control'"}],"mark":{"type":"point","filled":true,"size":24,"color":"#000","opacity":1},"encoding":{"xOffset":{"field":"j","type":"quantitative","scale":{"domain":[-170,170],"range":[-121,121]}}}},
{"transform":[{"filter":"datum.r=='V2'&&datum.g=='ASD'"}],"mark":{"type":"point","shape":"triangle-up","size":64,"strokeWidth":0.8,"color":"#000","opacity":1},"encoding":{"xOffset":{"field":"j","type":"quantitative","scale":{"domain":[-170,170],"range":[-121,121]}}}},
{"data":{"name":"br"},"mark":{"type":"line","color":"#000","strokeWidth":1.6},"encoding":{"order":{"field":"o","type":"quantitative"},"xOffset":{"field":"j","type":"quantitative","scale":{"domain":[-170,170],"range":[-121,121]}}}},
{"data":{"values":[{"g":"Control","j":88,"v":2.013}]},"mark":{"type":"text","text":"*","fontSize":20,"fontWeight":"bold","color":"#000","baseline":"middle"},"encoding":{"xOffset":{"field":"j","type":"quantitative","scale":{"domain":[-170,170],"range":[-121,121]}}}}]}],"spacing":0,"bounds":"flush"},
{"vconcat":[{"data":{"values":[{}]},"width":266,"height":24,"view":{"fill":"#d9d9d9"},"mark":{"type":"text","fontSize":14.5,"fontWeight":"bold","color":"#1a1a1a"},"encoding":{"text":{"value":"Vermis VIII-X"}}},
{"width":266,"height":234,"encoding":{"x":{"field":"g","type":"nominal","scale":{"type":"point","domain":["Control","ASD"],"padding":0.6},"axis":{"title":null,"labelAngle":0,"labelFontSize":19,"labelPadding":0}},"y":{"field":"v","type":"quantitative","scale":{"domain":[1.637,3.463],"nice":false,"zero":false},"axis":{"title":null,"values":[1.75,2,2.25,2.5,2.75,3,3.25],"labelExpr":"indexof([2,2.5,3],datum.value)<0?'':format(datum.value,'.1f')","tickOpacity":{"condition":{"test":"indexof([2,2.5,3],datum.value)<0","value":0},"value":1},"gridWidth":{"condition":{"test":"indexof([2,2.5,3],datum.value)<0","value":0.55},"value":1.1}}}},
"layer":[{"data":{"name":"eb"},"transform":[{"filter":"datum.r=='V3'"}],"mark":{"type":"errorbar","size":48,"thickness":1.5,"rule":{"color":"#aaaaaa"},"ticks":{"color":"#aaaaaa"}},"encoding":{"y2":{"field":"v2"}}},
{"transform":[{"filter":"datum.r=='V3'&&datum.g=='Control'"}],"mark":{"type":"point","filled":true,"size":24,"color":"#000","opacity":1},"encoding":{"xOffset":{"field":"j","type":"quantitative","scale":{"domain":[-170,170],"range":[-121,121]}}}},
{"transform":[{"filter":"datum.r=='V3'&&datum.g=='ASD'"}],"mark":{"type":"point","shape":"triangle-up","size":64,"strokeWidth":0.8,"color":"#000","opacity":1},"encoding":{"xOffset":{"field":"j","type":"quantitative","scale":{"domain":[-170,170],"range":[-121,121]}}}}]}],"spacing":0,"bounds":"flush"},
{"vconcat":[{"data":{"values":[{}]},"width":266,"height":24,"view":{"fill":"#d9d9d9"},"mark":{"type":"text","fontSize":14.5,"fontWeight":"bold","color":"#1a1a1a"},"encoding":{"text":{"value":"Corpus Medullare"}}},
{"width":266,"height":234,"encoding":{"x":{"field":"g","type":"nominal","scale":{"type":"point","domain":["Control","ASD"],"padding":0.6},"axis":{"title":null,"labelAngle":0,"labelFontSize":19,"labelPadding":0}},"y":{"field":"v","type":"quantitative","scale":{"domain":[10.5,17.62],"nice":false,"zero":false},"axis":{"title":null,"values":[11,12,13,14,15,16,17],"labelExpr":"indexof([12,14,16],datum.value)<0?'':format(datum.value,'.1f')","tickOpacity":{"condition":{"test":"indexof([12,14,16],datum.value)<0","value":0},"value":1},"gridWidth":{"condition":{"test":"indexof([12,14,16],datum.value)<0","value":0.55},"value":1.1}}}},
"layer":[{"data":{"name":"eb"},"transform":[{"filter":"datum.r=='CM'"}],"mark":{"type":"errorbar","size":48,"thickness":1.5,"rule":{"color":"#aaaaaa"},"ticks":{"color":"#aaaaaa"}},"encoding":{"y2":{"field":"v2"}}},
{"transform":[{"filter":"datum.r=='CM'&&datum.g=='Control'"}],"mark":{"type":"point","filled":true,"size":24,"color":"#000","opacity":1},"encoding":{"xOffset":{"field":"j","type":"quantitative","scale":{"domain":[-170,170],"range":[-121,121]}}}},
{"transform":[{"filter":"datum.r=='CM'&&datum.g=='ASD'"}],"mark":{"type":"point","shape":"triangle-up","size":64,"strokeWidth":0.8,"color":"#000","opacity":1},"encoding":{"xOffset":{"field":"j","type":"quantitative","scale":{"domain":[-170,170],"range":[-121,121]}}}}]}],"spacing":0,"bounds":"flush"}
],"spacing":5.5}
],
"config":{
"font":"Liberation Sans",
"view":{"stroke":"#333333","strokeWidth":1},
"axis":{"labelFont":"Liberation Sans","labelFontWeight":"bold","labelColor":"#000000","labelFontSize":18,"labelPadding":2,"labelOverlap":false,"labelFlush":false,"tickColor":"#333333","tickSize":4,"domain":false,"grid":true,"gridColor":"#ebebeb","titleFont":"Liberation Sans","titleFontWeight":"bold","titleFontSize":19,"titleColor":"#000000","titlePadding":5},
"axisY":{"tickCount":50},
"axisX":{"gridWidth":1.1}
}
}
